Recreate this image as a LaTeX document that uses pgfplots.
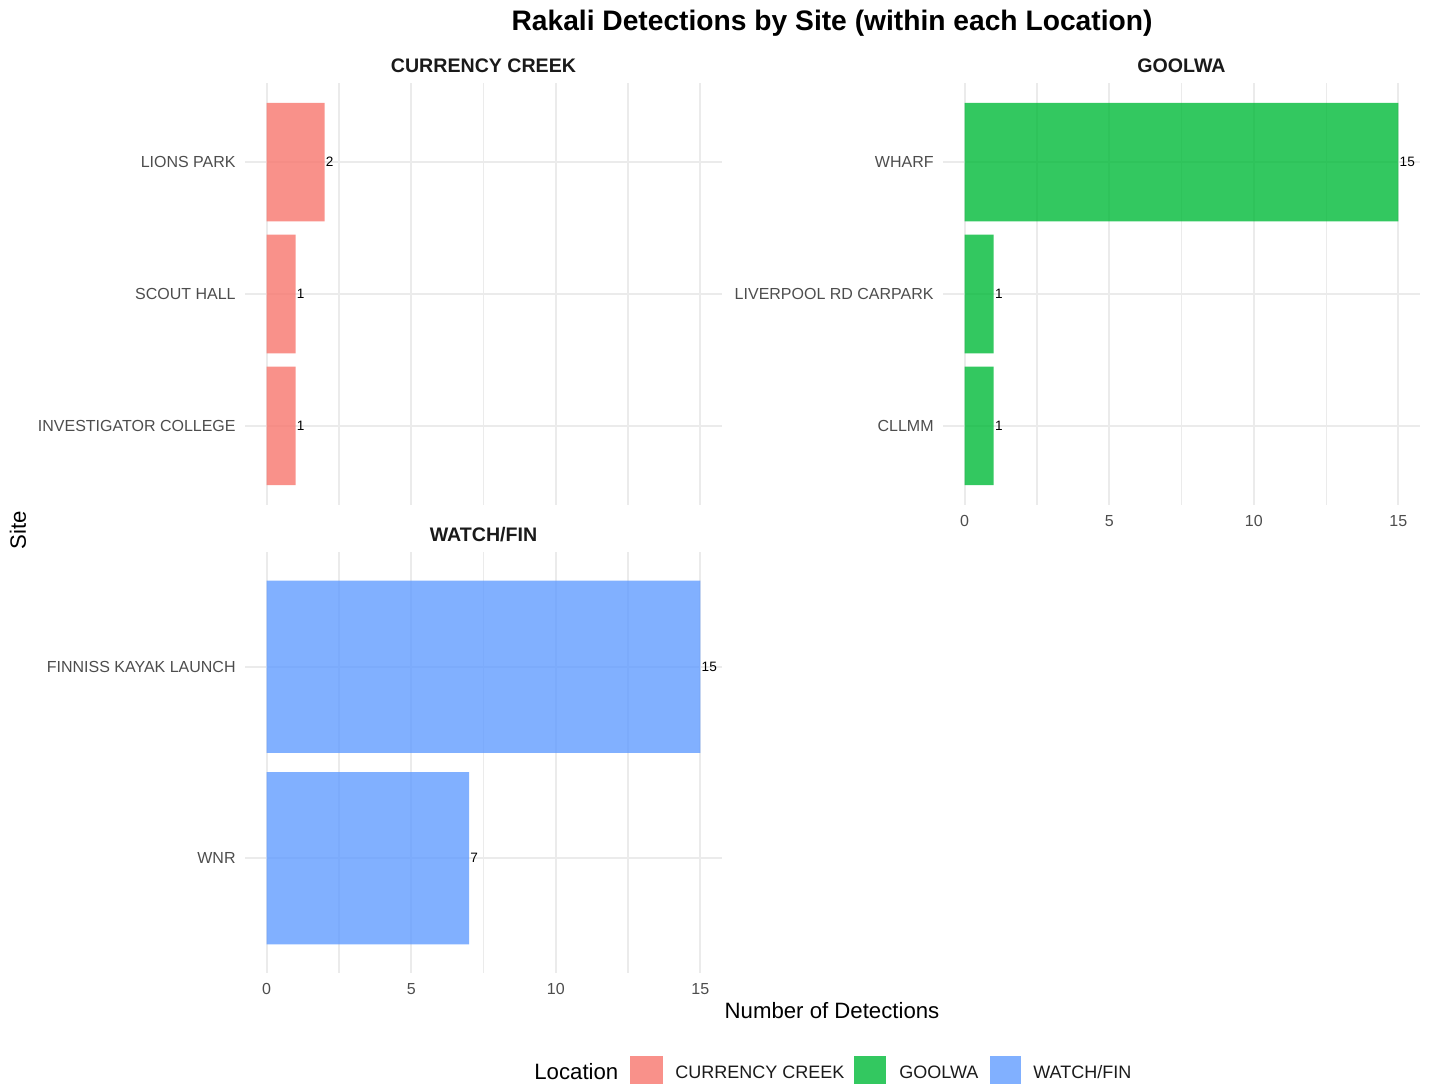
\documentclass[border=0pt]{standalone}
\usepackage{pgfplots}
\pgfplotsset{compat=1.18}
\usepackage{fontspec}
\setmainfont{Liberation Sans}
\definecolor{cc}{HTML}{F8766D}
\definecolor{gw}{HTML}{00BA38}
\definecolor{wf}{HTML}{619CFF}
\definecolor{gridc}{RGB}{235,235,235}
\definecolor{tickc}{RGB}{77,77,77}
\definecolor{txt}{RGB}{26,26,26}
\pgfplotsset{facet/.style={
  scale only axis, width=238.5pt, anchor=south west,
  xmin=-0.75, xmax=15.75,
  xtick={0,5,10,15}, minor xtick={2.5,7.5,12.5},
  xmajorgrids, xminorgrids, ymajorgrids,
  major grid style={draw=gridc, line width=1pt},
  minor grid style={draw=gridc, line width=0.55pt},
  axis line style={draw=none},
  major tick length=0pt, minor tick length=0pt,
  tick style={draw=none},
  tick label style={font=\fontsize{8}{9.6}\selectfont, text=tickc},
  yticklabel style={inner sep=0pt, xshift=-4.5pt},
  xticklabel style={inner sep=0pt, yshift=-5pt},
  /pgf/number format/assume math mode=true,
  xbar, bar width=0.9, bar shift=0pt,
  nodes near coords,
  every node near coord/.append style={font=\fontsize{6.8}{8}\selectfont, text=black, text opacity=1, anchor=west, inner sep=0.5pt},
  clip=false,
}}
\begin{document}
\begin{tikzpicture}
\useasboundingbox (0,0) rectangle (715pt,542pt);
% Currency Creek
\begin{axis}[facet, at={(122.5pt,289.5pt)}, height=211pt,
  ymin=0.4, ymax=3.6, ytick={1,2,3},
  yticklabels={INVESTIGATOR COLLEGE, SCOUT HALL, LIONS PARK},
  xticklabels={}]
\addplot[draw=none, fill=cc, fill opacity=0.8] coordinates {(1,1) (1,2) (2,3)};
\end{axis}
% Goolwa
\begin{axis}[facet, at={(471.5pt,289.5pt)}, height=211pt,
  ymin=0.4, ymax=3.6, ytick={1,2,3},
  yticklabels={CLLMM, LIVERPOOL RD CARPARK, WHARF}]
\addplot[draw=none, fill=gw, fill opacity=0.8] coordinates {(1,1) (1,2) (15,3)};
\end{axis}
% Watch/Fin
\begin{axis}[facet, at={(122.5pt,55.5pt)}, height=210.5pt,
  ymin=0.4, ymax=2.6, ytick={1,2},
  yticklabels={WNR, FINNISS KAYAK LAUNCH}]
\addplot[draw=none, fill=wf, fill opacity=0.8] coordinates {(7,1) (15,2)};
\end{axis}
% titles
\node[font=\bfseries\fontsize{14.1}{16}\selectfont, text=black] at (416pt,530.5pt) {Rakali Detections by Site (within each Location)};
\node[font=\bfseries\fontsize{9.8}{11}\selectfont, text=txt] at (241.75pt,509pt) {CURRENCY CREEK};
\node[font=\bfseries\fontsize{9.8}{11}\selectfont, text=txt] at (590.75pt,509pt) {GOOLWA};
\node[font=\bfseries\fontsize{9.8}{11}\selectfont, text=txt] at (241.75pt,274.5pt) {WATCH/FIN};
\node[font=\fontsize{11.1}{13}\selectfont, text=black] at (416pt,36.5pt) {Number of Detections};
\node[font=\fontsize{11.1}{13}\selectfont, text=black, rotate=90] at (9pt,277pt) {Site};
% legend
\node[font=\fontsize{11.1}{13}\selectfont, text=black, anchor=west, inner sep=0pt] at (267pt,6pt) {Location};
\fill[cc, fill opacity=0.8] (315pt,0pt) rectangle (331.5pt,14pt);
\node[font=\fontsize{9}{11}\selectfont, text=txt, anchor=west, inner sep=0pt] at (337.5pt,6pt) {CURRENCY CREEK};
\fill[gw, fill opacity=0.8] (427pt,0pt) rectangle (443pt,14pt);
\node[font=\fontsize{9}{11}\selectfont, text=txt, anchor=west, inner sep=0pt] at (449.5pt,6pt) {GOOLWA};
\fill[wf, fill opacity=0.8] (495pt,0pt) rectangle (510.5pt,14pt);
\node[font=\fontsize{9}{11}\selectfont, text=txt, anchor=west, inner sep=0pt] at (516.5pt,6pt) {WATCH/FIN};
\end{tikzpicture}
\end{document}
